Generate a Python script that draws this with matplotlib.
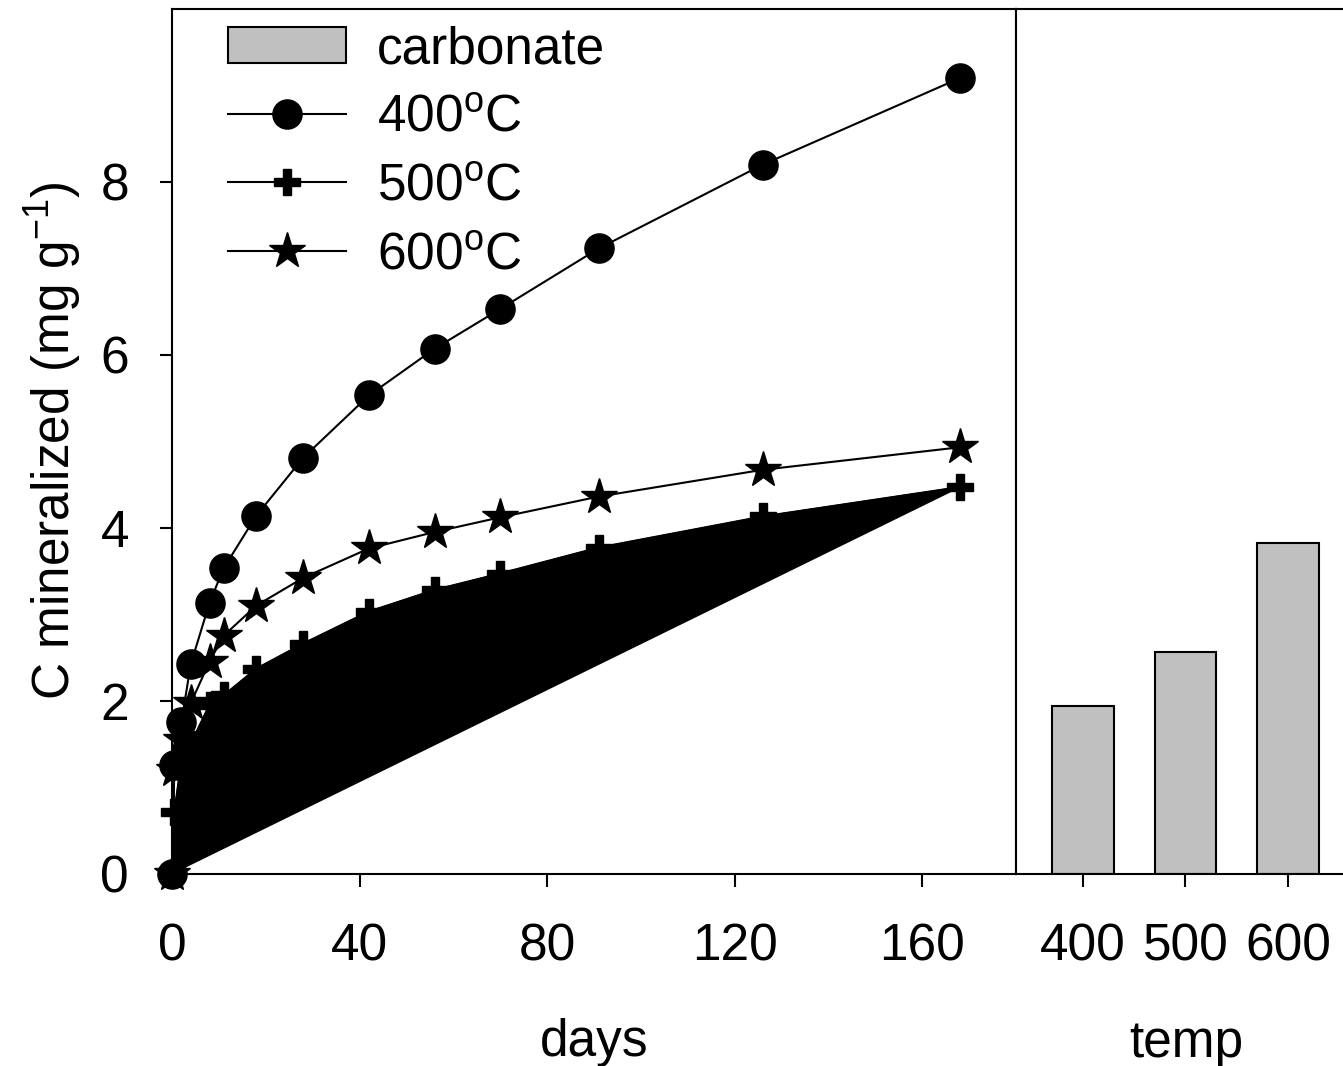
import matplotlib
matplotlib.use('Agg')
import matplotlib.pyplot as plt

plt.rcParams['font.family'] = ['Liberation Sans', 'DejaVu Sans']
plt.rcParams['mathtext.fontset'] = 'custom'
plt.rcParams['mathtext.rm'] = 'Liberation Sans'
plt.rcParams['mathtext.it'] = 'Liberation Sans:italic'

# ---- data ----
days = [0, 0.5, 2, 4, 8, 11, 18, 28, 42, 56, 70, 91, 126, 168]
c400 = [0, 1.26, 1.75, 2.42, 3.13, 3.53, 4.14, 4.81, 5.53, 6.07, 6.53, 7.23, 8.20, 9.20]
c500 = [0, 0.71, 1.30, 1.50, 1.95, 2.06, 2.37, 2.66, 3.03, 3.28, 3.47, 3.77, 4.13, 4.47]
c600 = [0, 1.20, 1.55, 1.97, 2.45, 2.75, 3.10, 3.42, 3.76, 3.95, 4.12, 4.36, 4.67, 4.93]
temps = [400, 500, 600]
carbonate = [1.94, 2.56, 3.82]
xticks_days = [0, 40, 80, 120, 160]
yticks = [0, 2, 4, 6, 8]

FS = 37
W, H = 1343, 1066
fig = plt.figure(figsize=(W / 100, H / 100), dpi=100)

l1, r1, b1, t1 = 172 / W, 1016 / W, (H - 873.5) / H, (H - 9) / H
ax1 = fig.add_axes([l1, b1, r1 - l1, t1 - b1])
ax2 = fig.add_axes([r1, b1, 1 - r1, t1 - b1])

# left panel
ax1.fill(days, c500, color='black', zorder=1)
l4, = ax1.plot(days, c400, color='black', lw=1.5, marker='o', ms=21, clip_on=False, zorder=3, label='400$^\\mathrm{o}$C')
l5, = ax1.plot(days, c500, color='black', lw=1.5, marker='P', ms=19, clip_on=False, zorder=3, label='500$^\\mathrm{o}$C')
l6, = ax1.plot(days, c600, color='black', lw=1.5, marker='*', ms=27, clip_on=False, zorder=3, label='600$^\\mathrm{o}$C')
ax1.set_xlim(0, 180)
ax1.set_ylim(0, 10)
ax1.set_xticks(xticks_days)
ax1.set_yticks(yticks)
ax1.set_xlabel('days', fontsize=FS, labelpad=34)
ax1.set_ylabel('C mineralized (mg g$^{\\mathrm{-1}}$)', fontsize=FS, labelpad=12)
ax1.tick_params(direction='out', length=9, width=1.5, labelsize=FS)
ax1.tick_params(axis='x', pad=26)
ax1.tick_params(axis='y', pad=22)
for s in ax1.spines.values():
    s.set_linewidth(1.5)

# right panel
bars = ax2.bar(temps, carbonate, width=60, color='#c0c0c0', edgecolor='black', lw=1.5, label='carbonate')
ax2.set_xlim(334.6, 653.7)
ax2.set_ylim(0, 10)
ax2.set_xticks(temps)
ax2.set_yticks([])
ax2.set_xlabel('temp', fontsize=FS)
ax2.xaxis.set_label_coords(0.52, -0.168)
ax2.tick_params(direction='out', length=9, width=1.5, labelsize=FS)
ax2.tick_params(axis='x', pad=26)
ax2.spines['right'].set_visible(False)
for s in ax2.spines.values():
    s.set_linewidth(1.5)

leg = ax1.legend(handles=[bars, l4, l5, l6], loc='upper left',
                 bbox_to_anchor=(0.066, 0.981), frameon=False, fontsize=FS,
                 handlelength=2.3, handletextpad=0.6, borderpad=0, borderaxespad=0,
                 labelspacing=0.38)

fig.savefig('out.png', dpi=100)
